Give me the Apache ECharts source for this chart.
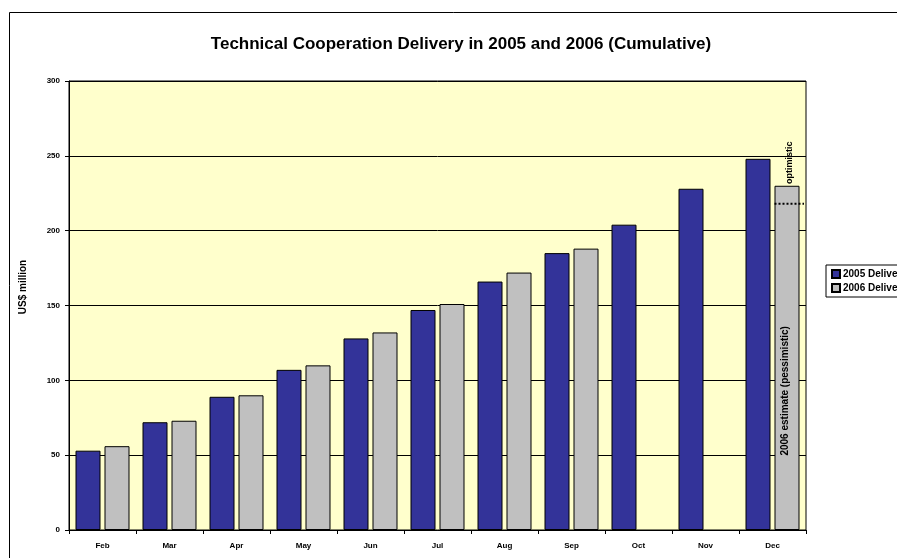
<!DOCTYPE html>
<html>
<head>
<meta charset="utf-8">
<script src="https://cdn.jsdelivr.net/npm/echarts@6/dist/echarts.min.js"></script>
<style>
  html, body { margin: 0; padding: 0; background: #fff; }
  #chart { width: 897px; height: 558px; }
</style>
</head>
<body>
<div id="chart"></div>
<script>
// Data
const months = ['Feb', 'Mar', 'Apr', 'May', 'Jun', 'Jul', 'Aug', 'Sep', 'Oct', 'Nov', 'Dec'];
const delivery2005 = [53, 72, 89, 107, 128, 147, 166, 185, 204, 228, 248];
const delivery2006 = [56, 73, 90, 110, 132, 151, 172, 188, null, null, 230];
const pessimisticEstimate = 218;
const yTicks = [0, 50, 100, 150, 200, 250, 300];

const FONT = 'Liberation Sans, Arial, sans-serif';
const GRID = { left: 69, right: 91, top: 81, bottom: 28 };

const chartDom = document.getElementById('chart');
const chart = echarts.init(chartDom, null, { renderer: 'canvas' });

const option = {
    animation: false,
    backgroundColor: '#fff',
    textStyle: { fontFamily: FONT },
    title: {
        text: 'Technical Cooperation Delivery in 2005 and 2006 (Cumulative)',
        left: 456,
        textAlign: 'center',
        top: 31,
        textStyle: { fontFamily: FONT, fontSize: 17, fontWeight: 'bold', color: '#000' }
    },
    legend: {
        orient: 'vertical',
        left: 826,
        top: 265,
        padding: [4, 30, 4, 5],
        itemGap: 4,
        itemWidth: 8,
        itemHeight: 8,
        backgroundColor: '#fff',
        borderColor: '#000',
        borderWidth: 1,
        borderRadius: 0,
        icon: 'rect',
        textStyle: { fontFamily: FONT, fontSize: 10, fontWeight: 'bold', color: '#000', padding: [0, 0, 0, -2] },
        data: ['2005 Delivery', '2006 Delivery']
    },
    grid: Object.assign({ show: true, backgroundColor: '#FFFFCC', borderColor: '#000', borderWidth: 1 }, GRID),
    xAxis: {
        type: 'category',
        data: months,
        axisLine: { lineStyle: { color: '#000' } },
        axisTick: { show: true, length: 4, lineStyle: { color: '#000' } },
        axisLabel: { fontFamily: FONT, fontSize: 8, fontWeight: 'bold', color: '#000', margin: 12 }
    },
    yAxis: {
        type: 'value',
        min: yTicks[0],
        max: yTicks[yTicks.length - 1],
        interval: 50,
        axisLine: { show: true, lineStyle: { color: '#000' } },
        axisTick: { show: true, length: 4, lineStyle: { color: '#000' } },
        axisLabel: { fontFamily: FONT, fontSize: 8, fontWeight: 'bold', color: '#000', margin: 9 },
        splitLine: { lineStyle: { color: '#000', width: 1 } }
    },
    series: [
        {
            name: '2005 Delivery',
            type: 'bar',
            data: delivery2005,
            barWidth: 25,
            barGap: '16%',
            itemStyle: { color: '#333399', borderColor: '#000', borderWidth: 1 }
        },
        {
            name: '2006 Delivery',
            type: 'bar',
            data: delivery2006,
            barWidth: 25,
            itemStyle: { color: '#C0C0C0', borderColor: '#000', borderWidth: 1 }
        }
    ]
};

chart.setOption(option);

// Annotations on the December estimate, placed through the axes
const dec = months.length - 1;
const lineStart = chart.convertToPixel({ seriesIndex: 1 }, [dec, pessimisticEstimate]);
const plotRight = chart.getWidth() - GRID.right;
const grayCenter = lineStart[0] + 14.5;
const optTop = chart.convertToPixel({ seriesIndex: 1 }, [dec, delivery2006[dec]])[1];
const midY = chart.convertToPixel({ seriesIndex: 1 }, [dec, 93])[1];

chart.setOption({
    graphic: [
        {
            type: 'rect',
            shape: { x: 9.5, y: 12.5, width: 950, height: 600 },
            style: { fill: null, stroke: '#000', lineWidth: 1 },
            silent: true
        },
        {
            type: 'text',
            x: 23,
            y: 287,
            rotation: Math.PI / 2,
            style: { text: 'US$ million', font: 'bold 10px ' + FONT, fill: '#000', align: 'center', verticalAlign: 'middle' }
        },
        {
            type: 'line',
            shape: { x1: lineStart[0] + 2, y1: lineStart[1], x2: plotRight - 2, y2: lineStart[1] },
            style: { stroke: '#000', lineWidth: 2, lineDash: [2, 2] },
            z: 10
        },
        {
            type: 'text',
            x: grayCenter + 3,
            y: optTop - 23,
            rotation: Math.PI / 2,
            style: { text: 'optimistic', font: 'bold 9px ' + FONT, fill: '#000', align: 'center', verticalAlign: 'middle' },
            z: 10
        },
        {
            type: 'text',
            x: grayCenter - 2,
            y: midY,
            rotation: Math.PI / 2,
            style: { text: '2006 estimate (pessimistic)', font: 'bold 10px ' + FONT, fill: '#000', align: 'center', verticalAlign: 'middle' },
            z: 10
        }
    ]
});
</script>
</body>
</html>
